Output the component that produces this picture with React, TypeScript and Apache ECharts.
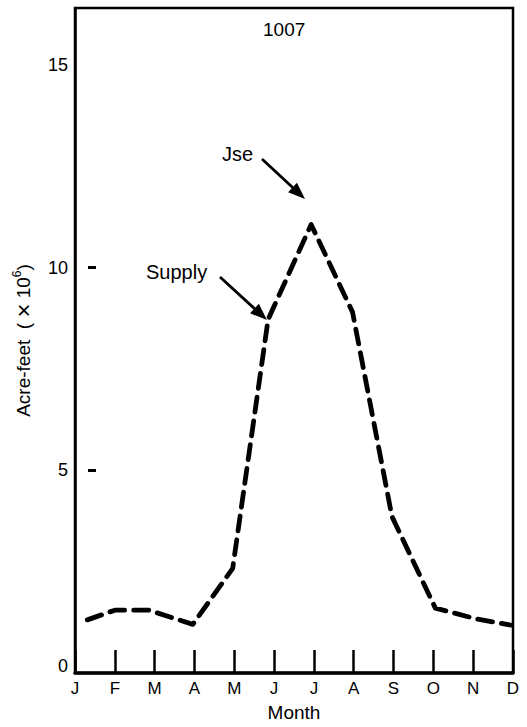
import React, { useEffect, useRef } from "react";
import * as echarts from "echarts";

const monthLabels = ["J", "F", "M", "A", "M", "J", "J", "A", "S", "O", "N", "D"];
const supplyX = [0.31, 1, 1.85, 2.96, 3.96, 4.85, 5.93, 6.97, 7.96, 9.05, 10.1, 10.95];
const supplyY = [1.31, 1.55, 1.55, 1.2, 2.58, 8.72, 11.06, 8.9, 3.86, 1.6, 1.33, 1.18];
const yLabelValues = [0, 5, 10, 15];
const yTickValues = [5, 10];

const FONT = "'Liberation Sans', Arial, Helvetica, sans-serif";

function arrow(x1: number, y1: number, x2: number, y2: number) {
  const dx = x2 - x1;
  const dy = y2 - y1;
  const len = Math.sqrt(dx * dx + dy * dy);
  const ux = dx / len;
  const uy = dy / len;
  const hl = 17;
  const hw = 6.5;
  const bx = x2 - ux * hl;
  const by = y2 - uy * hl;
  const px = -uy * hw;
  const py = ux * hw;
  return [
    {
      type: "line",
      shape: { x1, y1, x2: bx + ux * 2, y2: by + uy * 2 },
      style: { stroke: "#000", lineWidth: 2.8 },
    },
    {
      type: "polygon",
      shape: {
        points: [
          [x2, y2],
          [bx + px, by + py],
          [bx - px, by - py],
        ],
      },
      style: { fill: "#000" },
    },
  ];
}

export default function App() {
  const ref = useRef<HTMLDivElement>(null);
  useEffect(() => {
    if (!ref.current) return;
    const chart = echarts.init(ref.current, null, { renderer: "svg" });
    const data = supplyX.map((x, i) => [x, supplyY[i]]);
    chart.setOption({
      animation: false,
      backgroundColor: "#fff",
      grid: {
        left: 75,
        right: 14,
        top: 8,
        bottom: 52,
        show: true,
        borderColor: "#000",
        borderWidth: 2.5,
        backgroundColor: "transparent",
      },
      xAxis: {
        type: "value",
        min: 0,
        max: 11,
        interval: 1,
        name: "Month",
        nameLocation: "middle",
        nameGap: 30,
        nameTextStyle: { fontFamily: FONT, fontSize: 19, color: "#000" },
        axisLine: { show: true, lineStyle: { color: "#000", width: 3.5 } },
        axisTick: { show: true, inside: true, length: 23, lineStyle: { color: "#000", width: 2.5 } },
        splitLine: { show: false },
        axisLabel: {
          fontFamily: FONT,
          fontSize: 17,
          color: "#000",
          margin: 7,
          formatter: (v: number) => monthLabels[Math.round(v)] ?? "",
        },
      },
      yAxis: {
        type: "value",
        min: 0,
        max: 16.4,
        interval: 5,
        name: "Acre-feet  ( {x|×} 10{sup|6})",
        nameLocation: "middle",
        nameGap: 40,
        nameTextStyle: {
          fontFamily: FONT,
          fontSize: 19,
          color: "#000",
          rich: {
            x: { fontFamily: FONT, fontSize: 24, color: "#000" },
            sup: { fontFamily: FONT, fontSize: 12, color: "#000", verticalAlign: "top", padding: [0, 0, 9, 0] },
          },
        },
        axisLine: { show: true, lineStyle: { color: "#000", width: 2.5 } },
        axisTick: {
          show: true,
          inside: true,
          length: 22,
          customValues: yTickValues,
          lineStyle: { color: "#000", width: 3, type: [0, 13, 8, 100] },
        },
        splitLine: { show: false },
        axisLabel: {
          fontFamily: FONT,
          fontSize: 18,
          color: "#000",
          margin: 7,
          customValues: yLabelValues,
          formatter: (v: number) => (v === 0 ? "{z|0}" : String(v)),
          rich: { z: { fontFamily: FONT, fontSize: 18, color: "#000", padding: [0, 0, 14, 0] } },
        },
      },
      series: [
        {
          type: "line",
          data,
          symbol: "none",
          lineStyle: { color: "#000", width: 4.8, type: [15, 9], cap: "round", join: "round" },
        },
      ],
      graphic: [
        {
          type: "text",
          left: 263,
          top: 20,
          style: { text: "1007", fontFamily: FONT, fontSize: 19, fill: "#000" },
        },
        {
          type: "text",
          left: 222,
          top: 144,
          style: { text: "Jse", fontFamily: FONT, fontSize: 20, fill: "#000" },
        },
        {
          type: "text",
          left: 146,
          top: 262,
          style: { text: "Supply", fontFamily: FONT, fontSize: 20, fill: "#000" },
        },
        ...arrow(262, 159, 305, 199),
        ...arrow(220, 277, 267, 320),
      ],
    });
    return () => chart.dispose();
  }, []);
  return <div ref={ref} style={{ width: 527, height: 727, position: "absolute", left: 0, top: 0 }} />;
}
